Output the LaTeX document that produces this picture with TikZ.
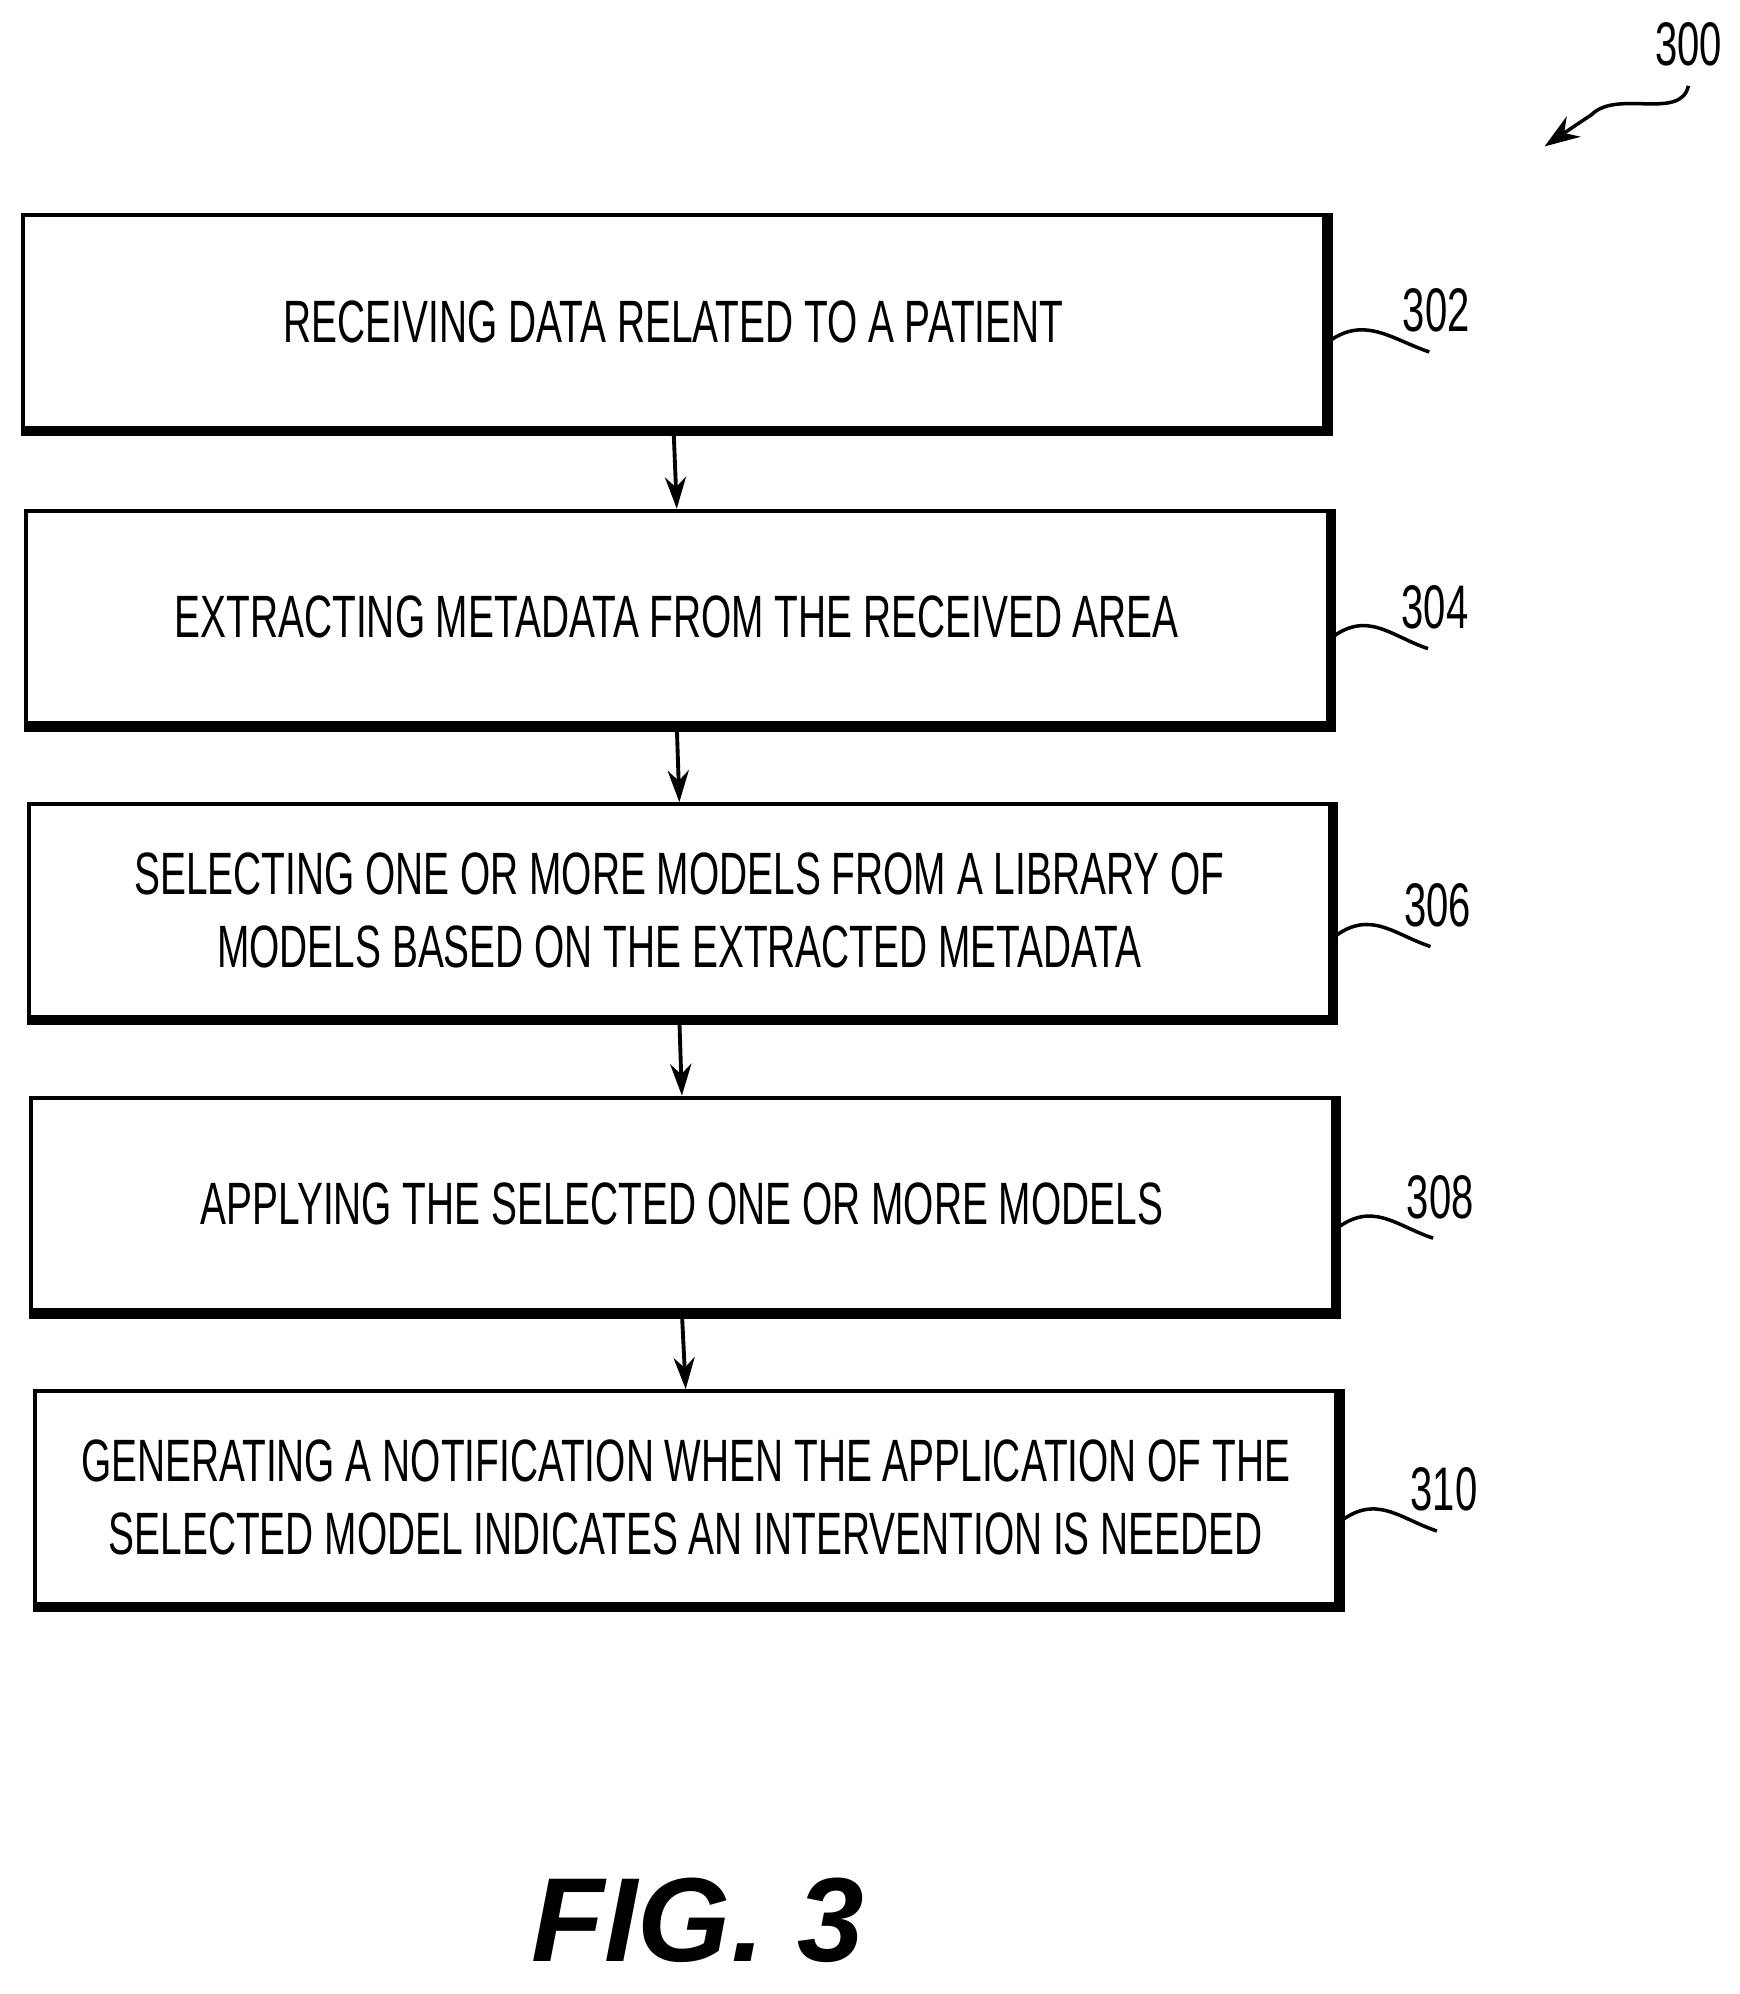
\documentclass[tikz,border=0pt]{standalone}
\usepackage{fontspec}
\setmainfont{Liberation Sans}
\newfontfamily\cond[FakeStretch=0.65]{Liberation Sans}
\usetikzlibrary{arrows.meta}
\begin{document}
\begin{tikzpicture}[x=0.01273cm,y=-0.01273cm,
  box/.style={draw,line width=1.1pt,minimum width=1022*0.01273cm,minimum height=167*0.01273cm,align=center,font=\cond\fontsize{17}{20.5}\selectfont,inner sep=0pt},
  arr/.style={-{Stealth[length=9pt,width=6pt]},line width=1.1pt},
  lbl/.style={font=\cond\fontsize{17.5}{20}\selectfont},
  sq/.style={line width=1pt}]
\useasboundingbox (0,0) rectangle (1366,1566);
\node[box] (b302) at (529,252.5) {RECEIVING DATA RELATED TO A PATIENT};
\node[box] (b304) at (531.5,484.5) {EXTRACTING METADATA FROM THE RECEIVED AREA};
\node[box] (b306) at (533.5,715) {SELECTING ONE OR MORE MODELS FROM A LIBRARY OF\\MODELS BASED ON THE EXTRACTED METADATA};
\node[box] (b308) at (535.5,945.5) {APPLYING THE SELECTED ONE OR MORE MODELS};
\node[box] (b310) at (538.5,1176) {GENERATING A NOTIFICATION WHEN THE APPLICATION OF THE\\SELECTED MODEL INDICATES AN INTERVENTION IS NEEDED};
\foreach \b in {b302,b304,b306,b308,b310}{
  \draw[line width=2pt] ([xshift=0.8pt]\b.north east) -- ([xshift=0.8pt,yshift=-0.8pt]\b.south east) -- ([yshift=-0.8pt]\b.south west);}
\draw[arr] (b302.south) -- (b304.north);
\draw[arr] (b304.south) -- (b306.north);
\draw[arr] (b306.south) -- (b308.north);
\draw[arr] (b308.south) -- (b310.north);
\node[lbl] (l302) at (1128,244) {302};
\node[lbl] (l304) at (1127,477) {304};
\node[lbl] (l306) at (1129,711) {306};
\node[lbl] (l308) at (1131,940) {308};
\node[lbl] (l310) at (1134,1170) {310};
\node[lbl] (l300) at (1326,35) {300};
\coordinate (e302) at (1040,271);
\coordinate (e304) at (1043,503);
\coordinate (e306) at (1045,738);
\coordinate (e308) at (1047,967);
\coordinate (e310) at (1050,1197);
\foreach \e/\l in {e302/l302,e304/l304,e306/l306,e308/l308,e310/l310}{
  \draw[sq] (\e) .. controls +(30,-25) and +(-30,-10) .. ([xshift=-2pt,yshift=-2pt]\l.south);}
\coordinate (a300) at (1213,115);
\draw[-{Stealth[length=10pt,width=7pt]},line width=1pt] ([yshift=-2pt]l300.south) .. controls (1320,95) and (1270,70) .. (1250,90) .. controls (1235,100) .. (a300);
\node[font=\bfseries\itshape\fontsize{34}{38}\selectfont] (fig) at (548,1508) {FIG. 3};
\end{tikzpicture}
\end{document}
